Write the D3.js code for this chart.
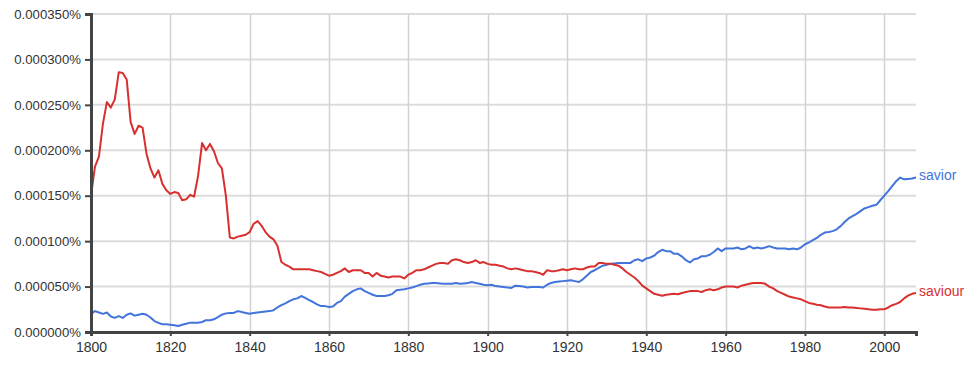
<!DOCTYPE html>
<html>
<head>
<meta charset="utf-8">
<script src="https://cdn.jsdelivr.net/npm/d3@7"></script>
<style>
  body { margin: 0; background: #fff; }
  text { font-family: "Liberation Sans", Arial, sans-serif; fill: #333; }
</style>
</head>
<body>
<div id="chart"></div>
<script>
// years 1800..2008, values in millionths of a percent (150 -> 0.000150%)
var startYear = 1800;
var endYear = 2008;

var saviour = [
  150, 182, 193, 229, 253, 247, 256, 286, 285, 278,
  231, 218, 227, 225, 196, 180, 170, 178, 163, 156,
  152, 154, 153, 145, 146, 151, 149, 172, 208, 200,
  207, 199, 186, 180, 150, 104, 103, 105, 106, 107,
  110, 119, 122, 117, 110, 105, 102, 95, 77, 74,
  72, 69, 69, 69, 69, 69, 68, 67, 66, 64,
  62, 63, 65, 67, 70, 66, 68, 68, 68, 65,
  65, 61, 65, 62, 61, 60, 61, 61, 61, 59,
  63, 65, 68, 68, 69, 71, 73, 75, 76, 76,
  75, 79, 80, 79, 77, 76, 77, 79, 76, 77,
  75, 74, 74, 73, 72, 70, 69, 70, 69, 68,
  67, 67, 66, 65, 63, 68, 67, 67, 68, 69,
  68, 69, 70, 69, 69, 71, 72, 72, 76, 76,
  75, 75, 74, 73, 70, 66, 63, 60, 56, 51,
  48, 45, 42, 41, 40, 41, 41.5, 42, 41.5, 43,
  44, 45, 45, 45, 44, 46, 47, 46, 47, 49,
  50, 50, 50, 49, 51, 52, 53, 54, 54, 54,
  53, 50, 48, 45, 43, 41, 39, 38, 37, 36,
  34, 32, 31, 30, 29.5, 28, 27, 27, 27, 27,
  27.5, 27, 27, 26.5, 26, 25.5, 25, 24.5, 24.5, 25,
  25, 27, 29.5, 31, 33, 37, 40, 42, 43
];

var savior = [
  20, 23, 21.5, 20, 21.5, 17, 15.5, 17.5, 15.5, 19,
  20.5, 18, 19, 20, 19, 16, 12, 10, 8.5, 8.5,
  8, 7.5, 6.6, 8, 9, 10.3, 10.3, 10.3, 11, 13,
  13, 14, 16.5, 19, 20.5, 21, 21, 23, 22, 21,
  20, 21, 21.5, 22, 22.5, 23, 24, 27, 29.5, 31.5,
  34, 36, 37, 39.6, 37.5, 35, 33, 30.5, 28.5, 28.5,
  27.5, 28, 32, 34, 39, 42, 45, 47, 48, 45,
  43, 41, 39.6, 39.6, 39.6, 40.5, 42, 46, 46.5, 47,
  48, 49, 50.5, 52, 53, 53.5, 54, 54, 53.5, 53,
  53, 53, 54, 53, 53.5, 54, 55, 54, 53, 52,
  51.5, 52, 50.5, 50, 49.5, 49, 48.5, 51, 50.5, 50,
  49, 49.5, 49.5, 49.5, 49, 52, 54, 55, 55.5, 56,
  56.5, 57, 56, 55, 58, 62, 66, 68, 70.5, 73,
  74, 75, 75.5, 76, 76, 76, 76, 79, 80, 78,
  81, 82, 84, 88, 90.5, 89, 89, 86, 86, 83,
  79, 76.5, 80, 81, 83.5, 83.5, 85, 88, 92, 89,
  92, 92, 92, 93, 91, 92, 94.5, 92, 93, 92,
  93, 94.5, 93, 92, 92, 92, 91, 92, 91, 93,
  96.5, 98.5, 101, 103.5, 107, 109.5, 110, 111, 113, 116.5,
  121, 125, 127.5, 130, 133, 136, 137.5, 139, 140, 145,
  150, 155, 160.5, 166, 170, 168, 168.5, 169, 170
];

var yTicks = [0, 50, 100, 150, 200, 250, 300, 350];
var xTicks = [1800, 1820, 1840, 1860, 1880, 1900, 1920, 1940, 1960, 1980, 2000];

var seriesNames = ["savior", "saviour"];
var seriesColors = ["#4274db", "#d7302f"];

// ------------ //
// Set up chart //
// ------------ //
var svgWidth = 976;
var svgHeight = 366;
var margin = { top: 14, right: 60, bottom: 34, left: 91 };
var width = svgWidth - margin.left - margin.right;
var height = svgHeight - margin.top - margin.bottom;

var svg = d3.select("#chart").append("svg")
  .attr("width", svgWidth)
  .attr("height", svgHeight);

var chartGroup = svg.append("g")
  .attr("transform", `translate(${margin.left}, ${margin.top})`);

var xScale = d3.scaleLinear().domain([startYear, endYear]).range([0, width]);
var yScale = d3.scaleLinear().domain([0, 350]).range([height, 0]);

// gridlines
chartGroup.append("g").selectAll("line")
  .data(yTicks.slice(1))
  .enter().append("line")
  .attr("x1", 0).attr("x2", width)
  .attr("y1", d => yScale(d)).attr("y2", d => yScale(d))
  .attr("stroke", "#dcdcdc").attr("stroke-width", 2);

chartGroup.append("g").selectAll("line")
  .data(xTicks.slice(1))
  .enter().append("line")
  .attr("x1", d => Math.round(xScale(d)) + 0.5).attr("x2", d => Math.round(xScale(d)) + 0.5)
  .attr("y1", 0).attr("y2", height)
  .attr("stroke", "#d2d2d2").attr("stroke-width", 1.5);

// lines
var lineGen = d3.line()
  .x((d, i) => xScale(startYear + i))
  .y(d => yScale(d));

[savior, saviour].forEach(function(values, k) {
  chartGroup.append("path")
    .datum(values)
    .attr("fill", "none")
    .attr("stroke", seriesColors[k])
    .attr("stroke-width", 2)
    .attr("stroke-linejoin", "round")
    .attr("d", lineGen);

  // end label
  chartGroup.append("text")
    .attr("x", width + 3)
    .attr("y", yScale(values[values.length - 1]))
    .attr("dy", "0.2em")
    .style("font-size", "14px")
    .style("fill", seriesColors[k])
    .text(seriesNames[k]);
});

// axes
var leftAxis = d3.axisLeft(yScale)
  .tickValues(yTicks)
  .tickSize(6)
  .tickPadding(4)
  .tickFormat(d => (d / 1e6).toFixed(6) + "%");

var bottomAxis = d3.axisBottom(xScale)
  .tickValues(xTicks)
  .tickSize(4)
  .tickPadding(6)
  .tickFormat(d3.format("d"));

var yAxis = chartGroup.append("g").call(leftAxis);
var xAxis = chartGroup.append("g")
  .attr("transform", `translate(0, ${height})`)
  .call(bottomAxis);

yAxis.select(".domain").attr("stroke", "#444").attr("stroke-width", 3);
xAxis.select(".domain").attr("stroke", "#444").attr("stroke-width", 3);
yAxis.selectAll(".tick line").attr("stroke", "#444").attr("stroke-width", 2);
xAxis.selectAll(".tick line").attr("stroke", "#444").attr("stroke-width", 2);
yAxis.selectAll("text").style("font-size", "13.2px").style("fill", "#333")
  .style("font-family", "'Liberation Sans', Arial, sans-serif");
xAxis.selectAll("text").style("font-size", "14px").style("fill", "#333")
  .style("font-family", "'Liberation Sans', Arial, sans-serif");
</script>
</body>
</html>
